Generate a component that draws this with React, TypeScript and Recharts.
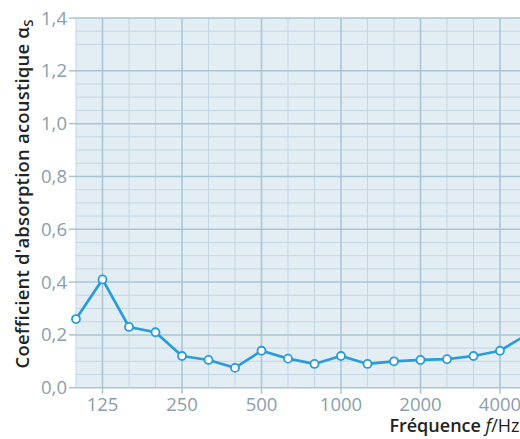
import React from 'react';
import { LineChart, Line, XAxis, YAxis, CartesianGrid } from 'recharts';

const frequencies = ['100', '125', '160', '200', '250', '315', '400', '500', '630', '800', '1000', '1250', '1600', '2000', '2500', '3150', '4000', '5000'];
const alphaS = [0.26, 0.41, 0.23, 0.21, 0.12, 0.105, 0.075, 0.14, 0.11, 0.09, 0.12, 0.09, 0.1, 0.105, 0.108, 0.12, 0.14, 0.2];
const yTicks = [0, 0.2, 0.4, 0.6, 0.8, 1.0, 1.2, 1.4];
const xTickLabels = ['125', '250', '500', '1000', '2000', '4000'];
const minorYLines = [0.05, 0.1, 0.15, 0.25, 0.3, 0.35, 0.45, 0.5, 0.55, 0.65, 0.7, 0.75, 0.85, 0.9, 0.95, 1.05, 1.1, 1.15, 1.3, 1.35];
const majorXLines = ['125', '250', '500', '1000', '2000', '4000'];
const minorXLines = frequencies.filter((f) => !majorXLines.includes(f));
const yDomain = [0, 1.4];

const data = frequencies.map((f, i) => ({ f, a: alphaS[i] }));

const BG = '#e3edf4';
const MINOR = '#c3d7e3';
const MAJOR = '#a9c4d4';
const TICK_TEXT = '#8a9eab';
const LINE = '#2a9cd8';
const FONT = '"Open Sans", "Noto Sans", sans-serif';

const applyScale = (s: any, v: any): number | undefined => {
  if (!s) return undefined;
  if (typeof s === 'function') return s(v);
  if (typeof s.map === 'function') return s.map(v);
  if (typeof s.scale === 'function') return s.scale(v);
  return undefined;
};

const mapY = (vals: number[]) => (props: any) => {
  const s = props?.yAxis?.scale;
  const out = vals.map((v) => applyScale(s, v));
  if (out.every((c) => typeof c === 'number' && !isNaN(c))) return out as number[];
  const { offset } = props;
  return vals.map((v) => offset.top + offset.height * (1 - (v - yDomain[0]) / (yDomain[1] - yDomain[0])));
};
const mapX = (vals: string[]) => (props: any) => {
  const s = props?.xAxis?.scale;
  const out = vals.map((v) => applyScale(s, v));
  if (out.every((c) => typeof c === 'number' && !isNaN(c))) return out as number[];
  const { offset } = props;
  const n = frequencies.length - 1;
  return vals.map((v) => offset.left + (offset.width * frequencies.indexOf(v)) / n);
};

const YLabel = () => (
  <text
    transform="translate(29,194) rotate(-90)"
    textAnchor="middle"
    fontFamily={FONT}
    fontSize={18.5}
    fontWeight={600}
    letterSpacing={0.2}
    fill="#222"
  >
    Coefficient d'absorption acoustique α
    <tspan dy={4} fontSize={13}>S</tspan>
  </text>
);

const XLabel = () => (
  <text x={519.5} y={432} textAnchor="end" fontFamily={FONT} fontSize={18} fill="#222">
    <tspan fontWeight={600}>Fréquence </tspan>
    <tspan fontStyle="italic">f</tspan>
    <tspan>/Hz</tspan>
  </text>
);

export default function App() {
  return (
    <div style={{ position: 'absolute', left: 0, top: 0, width: 520, height: 439, overflow: 'hidden' }}>
      <LineChart
        width={560}
        height={439}
        data={data}
        margin={{ top: 18, right: 33.5, left: 0, bottom: 0 }}
      >
        <CartesianGrid
          fill={BG}
          fillOpacity={1}
          stroke={MINOR}
          strokeWidth={1}
          horizontalCoordinatesGenerator={mapY(minorYLines)}
          verticalCoordinatesGenerator={mapX(minorXLines)}
        />
        <CartesianGrid
          stroke={MAJOR}
          strokeWidth={1.5}
          horizontalCoordinatesGenerator={mapY(yTicks)}
          verticalCoordinatesGenerator={mapX(majorXLines)}
        />
        <XAxis
          dataKey="f"
          type="category"
          scale="point"
          padding={{ left: 0, right: 0 }}
          ticks={xTickLabels}
          interval={0}
          height={51.3}
          axisLine={false}
          tickLine={{ stroke: MAJOR, strokeWidth: 1.5 }}
          tickSize={6}
          tickMargin={4}
          tick={{ fill: TICK_TEXT, fontSize: 18.5, fontFamily: FONT }}
          label={<XLabel />}
        />
        <YAxis
          domain={yDomain}
          ticks={yTicks}
          interval={0}
          width={76}
          axisLine={false}
          tickLine={{ stroke: MAJOR, strokeWidth: 1.5 }}
          tickSize={7}
          tickMargin={2}
          tick={{ fill: TICK_TEXT, fontSize: 18.5, fontFamily: FONT }}
          tickFormatter={(v: number) => v.toFixed(1).replace('.', ',')}
          label={<YLabel />}
        />
        <Line
          type="linear"
          dataKey="a"
          stroke={LINE}
          strokeWidth={2.7}
          dot={{ r: 4, fill: '#fff', stroke: LINE, strokeWidth: 1.8 }}
          isAnimationActive={false}
        />
      </LineChart>
    </div>
  );
}
